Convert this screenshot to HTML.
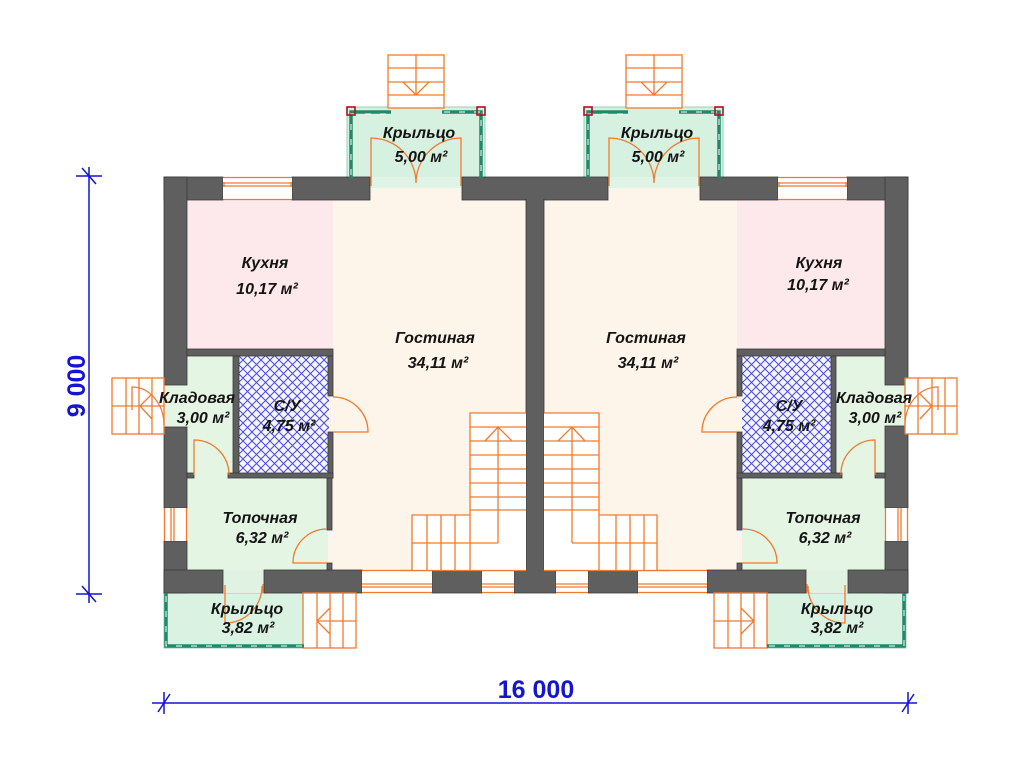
<!DOCTYPE html>
<html><head><meta charset="utf-8">
<style>
html,body{margin:0;padding:0;background:#fff;}
svg{display:block;}
.t{font-family:"Liberation Sans",Arial,sans-serif;font-weight:bold;font-style:italic;font-size:16px;fill:#141414;text-anchor:middle;}
.dim{font-family:"Liberation Sans",Arial,sans-serif;font-weight:bold;font-size:25px;fill:#1414d2;text-anchor:middle;}
.w{fill:#5f5f5f;stroke:#3a3a3a;stroke-width:0.8;}
.o{stroke:#f07a2e;stroke-width:1.3;fill:none;}
.ow{stroke:#f07a2e;stroke-width:1.3;fill:#fff;}
.rail{stroke:#23886a;stroke-width:3.5;fill:none;}
.raild{stroke:#ffffff;stroke-width:1;fill:none;stroke-dasharray:6 9;}
.post{stroke:#b01020;stroke-width:1.6;fill:none;}
.bl{stroke:#1414d2;stroke-width:1.5;fill:none;}
</style></head><body>
<svg width="1024" height="768" viewBox="0 0 1024 768" xmlns="http://www.w3.org/2000/svg">
<defs>
<pattern id="hatch" width="9" height="9" patternUnits="userSpaceOnUse">
<rect width="9" height="9" fill="#f5f5ff"/>
<path d="M-1,-1 L10,10 M10,-1 L-1,10" stroke="#4a4ade" stroke-width="1"/>
</pattern>
</defs>

<!-- porches -->
<rect x="347" y="107" width="138" height="71" fill="#d6f1df" stroke="#8fd6bb" stroke-width="1"/>
<rect x="370" y="177" width="92" height="11" fill="#dff4e6"/>
<rect x="584" y="107" width="139" height="71" fill="#d6f1df" stroke="#8fd6bb" stroke-width="1"/>
<rect x="608" y="177" width="92" height="11" fill="#dff4e6"/>
<rect x="164" y="593" width="140" height="55" fill="#d9f2e1" stroke="#8fd6bb" stroke-width="1"/>
<rect x="767" y="593" width="139" height="55" fill="#d9f2e1" stroke="#8fd6bb" stroke-width="1"/>

<!-- floors -->
<rect x="187" y="188" width="339" height="382" fill="#fdf4ea"/>
<rect x="544" y="188" width="341" height="382" fill="#fdf4ea"/>
<rect x="187" y="200" width="146" height="150" fill="#fde9eb"/>
<rect x="737" y="200" width="148" height="150" fill="#fde9eb"/>
<rect x="187" y="355" width="46" height="123" fill="#e5f5e3"/>
<rect x="836" y="355" width="49" height="123" fill="#e5f5e3"/>
<rect x="187" y="478" width="141" height="92" fill="#e5f5e3"/>
<rect x="742" y="478" width="143" height="92" fill="#e5f5e3"/>
<rect x="239" y="356" width="90" height="117" fill="url(#hatch)"/>
<rect x="742" y="356" width="90" height="117" fill="url(#hatch)"/>
<!-- openings -->
<rect x="164" y="385" width="23" height="42" fill="#e5f5e3"/>
<rect x="885" y="385" width="23" height="42" fill="#e5f5e3"/>
<rect x="223" y="570" width="41" height="23" fill="#e0f3e3"/>
<rect x="806" y="570" width="42" height="23" fill="#e0f3e3"/>

<!-- outer walls -->
<g class="w">
<rect x="164" y="177" width="59" height="23"/>
<rect x="292" y="177" width="78" height="23"/>
<rect x="462" y="177" width="146" height="23"/>
<rect x="700" y="177" width="78" height="23"/>
<rect x="847" y="177" width="61" height="23"/>
<rect x="164" y="177" width="23" height="208"/>
<rect x="164" y="427" width="23" height="81"/>
<rect x="164" y="541" width="23" height="52"/>
<rect x="885" y="177" width="23" height="208"/>
<rect x="885" y="426" width="23" height="82"/>
<rect x="885" y="541" width="23" height="52"/>
<rect x="164" y="570" width="59" height="23"/>
<rect x="264" y="570" width="98" height="23"/>
<rect x="432" y="570" width="50" height="23"/>
<rect x="514" y="570" width="42" height="23"/>
<rect x="588" y="570" width="50" height="23"/>
<rect x="707" y="570" width="99" height="23"/>
<rect x="848" y="570" width="60" height="23"/>
<rect x="526" y="199" width="18" height="372"/>
</g>
<!-- cover outlines at joints -->
<rect x="165" y="178" width="21" height="21" fill="#5f5f5f"/>
<rect x="886" y="178" width="21" height="21" fill="#5f5f5f"/>
<rect x="165" y="571" width="21" height="21" fill="#5f5f5f"/>
<rect x="886" y="571" width="21" height="21" fill="#5f5f5f"/>
<rect x="463" y="178" width="144" height="21" fill="#5f5f5f"/>
<rect x="527" y="178" width="16" height="392" fill="#5f5f5f"/>
<rect x="515" y="569" width="40" height="23" fill="#5f5f5f"/>

<!-- interior walls -->
<g class="w">
<rect x="187" y="349" width="146" height="7"/>
<rect x="233" y="356" width="6" height="117"/>
<rect x="328" y="356" width="5" height="40"/>
<rect x="328" y="432" width="5" height="46"/>
<rect x="327" y="478" width="5" height="52"/>
<rect x="327" y="563" width="5" height="7"/>
<rect x="228" y="473" width="105" height="5"/>
<rect x="187" y="473" width="7" height="5"/>
<rect x="737" y="349" width="148" height="7"/>
<rect x="831" y="356" width="5" height="117"/>
<rect x="737" y="356" width="5" height="40"/>
<rect x="737" y="432" width="5" height="46"/>
<rect x="737" y="478" width="5" height="52"/>
<rect x="737" y="563" width="5" height="7"/>
<rect x="737" y="473" width="105" height="5"/>
<rect x="875" y="473" width="10" height="5"/>
</g>

<!-- windows top -->
<g>
<rect x="223" y="177" width="69" height="23" fill="#fff"/>
<path class="o" d="M223,177.5H292M223,199.5H292M223,183H292M223,186H292M224,182V187M291,182V187"/>
<rect x="778" y="177" width="69" height="23" fill="#fff"/>
<path class="o" d="M778,177.5H847M778,199.5H847M778,183H847M778,186H847M779,182V187M846,182V187"/>
<!-- side windows -->
<rect x="164" y="508" width="23" height="33" fill="#fff"/>
<path class="o" d="M164.5,508V541M186.5,508V541M171,508V541M174,508V541"/>
<rect x="885" y="508" width="23" height="33" fill="#fff"/>
<path class="o" d="M885.5,508V541M907.5,508V541M898,508V541M901,508V541"/>
<!-- bottom windows -->
<rect x="362" y="570" width="70" height="23" fill="#fff"/>
<rect x="482" y="570" width="32" height="23" fill="#fff"/>
<rect x="556" y="570" width="32" height="23" fill="#fff"/>
<rect x="638" y="570" width="69" height="23" fill="#fff"/>
<path class="o" d="M362,570.5H432M362,592.5H432M362,584H432M362,587H432M482,570.5H514M482,592.5H514M482,584H514M482,587H514M556,570.5H588M556,592.5H588M556,584H588M556,587H588M638,570.5H707M638,592.5H707M638,584H707M638,587H707"/>
</g>

<!-- top steps -->
<rect class="ow" x="388" y="55" width="56" height="53"/>
<path class="o" d="M388,68H444M388,82H444M388,95H444M416,55V95M403,82L416,95L429,82"/>
<rect class="ow" x="626" y="55" width="56" height="53"/>
<path class="o" d="M626,68H682M626,82H682M626,95H682M654,55V95M641,82L654,95L667,82"/>

<!-- railings top -->
<path class="rail" d="M351,178V112H391M442,112H481V178"/>
<path class="raild" d="M351,175V114H389M444,112H481V175"/>
<rect class="post" x="347" y="107" width="8" height="8"/>
<rect class="post" x="477" y="107" width="8" height="8"/>
<path class="rail" d="M588,178V112H628M679,112H719V178"/>
<path class="raild" d="M588,175V114H626M681,112H719V175"/>
<rect class="post" x="584" y="107" width="8" height="8"/>
<rect class="post" x="715" y="107" width="8" height="8"/>

<!-- top double doors -->
<path class="o" d="M371,186V138A45,45 0 0 1 416,183M461,186V138A45,45 0 0 0 416,183"/>
<path class="o" d="M609,186V138A45,45 0 0 1 654,183M699,186V138A45,45 0 0 0 654,183"/>

<!-- center stairs -->
<rect x="470" y="413" width="56" height="157" fill="#fff"/>
<rect x="412" y="515" width="58" height="55" fill="#fff"/>
<path class="o" d="M470,570V413H526M470,427H526M470,441H526M470,455H526M470,469H526M470,483H526M470,497H526M470,510H526M412,570V515H470M412,543H498M427,515V570M441,515V570M455,515V570M498,427V543M485,441L498,427L512,441"/>
<rect x="544" y="413" width="55" height="157" fill="#fff"/>
<rect x="599" y="515" width="58" height="55" fill="#fff"/>
<path class="o" d="M599,570V413H544M544,427H599M544,441H599M544,455H599M544,469H599M544,483H599M544,497H599M544,510H599M657,570V515H599M572,543H657M616,515V570M630,515V570M644,515V570M572,427V543M558,441L572,427L585,441"/>
<path class="o" d="M400,570.5H526M544,570.5H670"/>

<!-- bottom stairs -->
<rect class="ow" x="303" y="593" width="53" height="55"/>
<path class="o" d="M317,593V648M330,593V648M343,593V648M317,621H356M330,608L317,621L330,634"/>
<rect class="ow" x="714" y="593" width="53" height="55"/>
<path class="o" d="M728,593V648M741,593V648M754,593V648M714,621H754M741,608L754,621L741,634"/>

<!-- bottom railings -->
<path class="rail" d="M166,593V646H304"/>
<path class="raild" d="M166,596V646H302"/>
<path class="rail" d="M767,646H904V593"/>
<path class="raild" d="M769,646H904V596"/>

<!-- side stairs -->
<rect class="ow" x="112" y="378" width="52" height="56"/>
<path class="o" d="M126,378V434M139,378V434M152,378V434M112,406H164M152,394L140,406L152,419"/>
<path class="o" d="M132,410V387A32,38 0 0 1 164,425"/>
<rect class="ow" x="905" y="378" width="52" height="56"/>
<path class="o" d="M918,378V434M932,378V434M945,378V434M905,406H957M920,394L932,406L920,419"/>
<path class="o" d="M938,410V387A33,38 0 0 0 905,425"/>

<!-- doors -->
<path class="o" d="M333,432H368A35,35 0 0 0 333,397"/>
<path class="o" d="M737,432H702A35,35 0 0 1 737,397"/>
<path class="o" d="M327,563H293A34,34 0 0 1 327,529"/>
<path class="o" d="M742,563H777A34,34 0 0 0 742,529"/>
<path class="o" d="M194,475V440A35,35 0 0 1 229,475"/>
<path class="o" d="M875,475V440A34,34 0 0 0 841,475"/>
<path class="o" d="M225,585V623A37,37 0 0 0 262,586M263,584V593"/>
<path class="o" d="M845,585V623A37,37 0 0 1 808,586M807,584V593"/>

<!-- labels -->
<text class="t" x="419" y="138">Крыльцо</text>
<text class="t" x="421" y="162">5,00 м²</text>
<text class="t" x="657" y="138">Крыльцо</text>
<text class="t" x="658" y="162">5,00 м²</text>
<text class="t" x="265" y="268">Кухня</text>
<text class="t" x="267" y="294">10,17 м²</text>
<text class="t" x="819" y="268">Кухня</text>
<text class="t" x="818" y="290">10,17 м²</text>
<text class="t" x="435" y="343">Гостиная</text>
<text class="t" x="438" y="368">34,11 м²</text>
<text class="t" x="646" y="343">Гостиная</text>
<text class="t" x="648" y="368">34,11 м²</text>
<text class="t" x="197" y="403">Кладовая</text>
<text class="t" x="203" y="423">3,00 м²</text>
<text class="t" x="874" y="403">Кладовая</text>
<text class="t" x="875" y="423">3,00 м²</text>
<text class="t" x="287" y="411">С/У</text>
<text class="t" x="289" y="431">4,75 м²</text>
<text class="t" x="789" y="411">С/У</text>
<text class="t" x="789" y="431">4,75 м²</text>
<text class="t" x="260" y="523">Топочная</text>
<text class="t" x="262" y="543">6,32 м²</text>
<text class="t" x="823" y="523">Топочная</text>
<text class="t" x="825" y="543">6,32 м²</text>
<text class="t" x="247" y="614">Крыльцо</text>
<text class="t" x="248" y="633">3,82 м²</text>
<text class="t" x="837" y="614">Крыльцо</text>
<text class="t" x="837" y="633">3,82 м²</text>

<!-- dimensions -->
<path class="bl" d="M89,167V603M76,176H102M76,594H102M82,168L96,184M82,586L96,602"/>
<text class="dim" transform="translate(85,386) rotate(-90)">9 000</text>
<path class="bl" d="M152,703H917M164,692V714M908,692V714M158,712L170,694M902,712L914,694"/>
<text class="dim" x="536" y="698">16 000</text>
</svg>
</body></html>
